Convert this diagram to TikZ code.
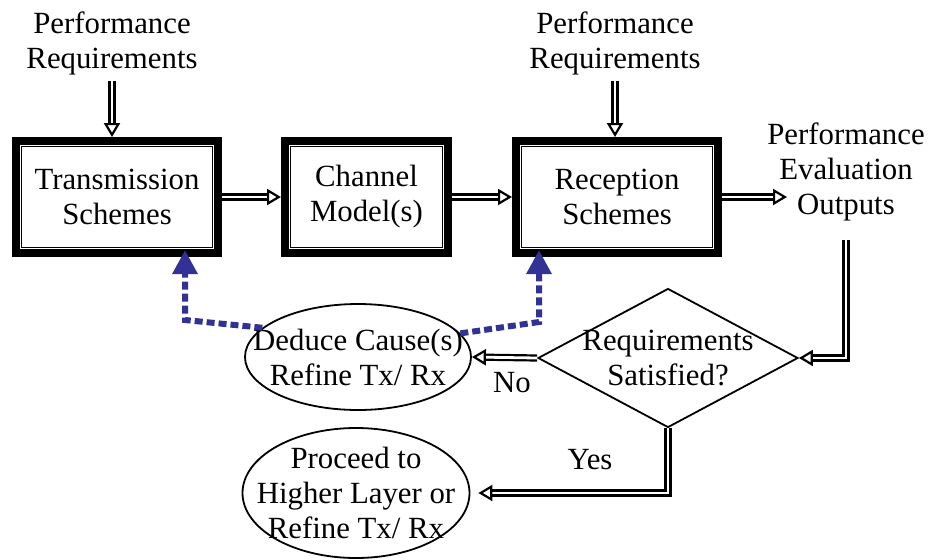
\documentclass[tikz,border=0pt]{standalone}
\usepackage{fontspec}
\setmainfont{Liberation Serif}
\usetikzlibrary{arrows.meta,shapes.geometric}
\definecolor{fbblue}{RGB}{50,50,150}

\begin{document}
\begin{tikzpicture}[x=0.5pt,y=-0.5pt,
  every node/.style={font=\fontsize{15.4}{17.5}\selectfont, align=center},
  stage/.style={draw, line width=5pt, minimum height=55pt, inner sep=0pt,
    postaction={path picture={\draw[white, line width=0.4pt]
      ([shift={(1.6pt,1.6pt)}]path picture bounding box.south west) rectangle
      ([shift={(-1.6pt,-1.6pt)}]path picture bounding box.north east);}}},
  oval/.style={draw, ellipse, line width=0.9pt, inner xsep=-30pt, inner ysep=-10pt},
  dbl/.style={draw, line width=1.1pt, double=white, double distance=1.4pt,
    -{Triangle[open, length=7pt, width=8pt]}},
  fb/.style={draw=fbblue, line width=3pt, dash pattern=on 4pt off 2pt,
    -{Triangle[fill=fbblue, length=12pt, width=12pt]}, shorten >=-3.5pt}]
\small
\useasboundingbox (0,0) rectangle (928,559);

% main chain
\node[stage, minimum width=100pt] (tx) at (117,197) {Transmission\\Schemes};
\node[stage, minimum width=80.5pt] (chan) at (366.5,197) {Channel\\Model(s)};
\node[stage, minimum width=100pt] (rx) at (617,197) {Reception\\Schemes};

\node (reqtx) at (112,43) {Performance\\Requirements};
\node (reqrx) at (615,43) {Performance\\Requirements};
\node (evalout) at (846,172) {Performance\\Evaluation\\Outputs};
\coordinate (outtip) at (787,197);

% decision and actions
\node[draw, diamond, line width=0.9pt, minimum width=130pt, minimum height=69.5pt,
  inner xsep=-40pt, inner ysep=-15pt] (sat) at (668,358) {Requirements\\Satisfied?};
\node[oval, minimum width=113pt, minimum height=53pt] (deduce) at (358,357)
  {Deduce Cause(s)\\Refine Tx/ Rx};
\node[oval, minimum width=113.5pt, minimum height=65pt] (proceed) at (356,493)
  {Proceed to\\Higher Layer or\\Refine Tx/ Rx};

\node (no) at (512,383) {No};
\node (yes) at (590,460) {Yes};

% connectors
\path[dbl] (reqtx.south) -- (reqtx.south |- tx.north);
\path[dbl] (reqrx.south) -- (reqrx.south |- rx.north);
\path[dbl] (tx) -- (chan);
\path[dbl] (chan) -- (rx);
\path[dbl] (rx) -- (outtip);
\path[dbl, shorten <=6pt] (evalout.south) |- (sat.east);
\path[dbl] (sat.west) -- (deduce.east);
\path[dbl, shorten >=4pt] (sat.south) |- (proceed.east);

% feedback
\coordinate (fbl) at (185,320);
\coordinate (fbr) at (539,322);
\path[fb] (deduce.163) -- (fbl) -- (fbl |- tx.south);
\path[fb] (deduce.13) -- (fbr) -- (fbr |- rx.south);
\end{tikzpicture}
\end{document}
